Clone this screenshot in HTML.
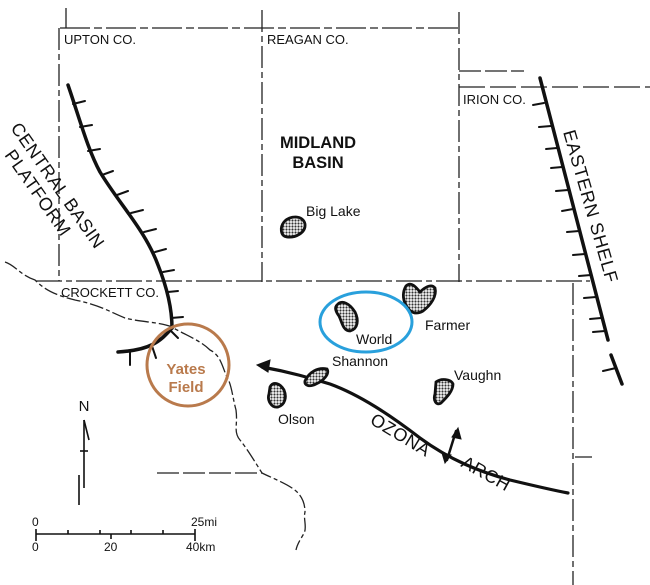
<!DOCTYPE html>
<html><head><meta charset="utf-8"><style>
html,body{margin:0;padding:0;background:#fff;}
svg{display:block;}
text{font-family:"Liberation Sans",sans-serif;fill:#111;}
</style></head><body>
<svg width="650" height="585" viewBox="0 0 650 585" xmlns="http://www.w3.org/2000/svg">
<g stroke="#222" stroke-width="1.3" fill="none">
  <line x1="66" y1="8" x2="66" y2="28"/>
  <path d="M60 28 H460" stroke-dasharray="30 4 8 4"/>
  <path d="M59 28 V281" stroke-dasharray="22 4 6 4"/>
  <path d="M262 10 V282" stroke-dasharray="22 4 6 4"/>
  <path d="M459 12 V282" stroke-dasharray="22 4 6 4"/>
  <path d="M459 71 H524" stroke-dasharray="22 4"/>
  <path d="M459 87 H650" stroke-dasharray="26 5"/>
  <path d="M36 281 H590" stroke-dasharray="26 4 6 4"/>
  <path d="M573 283 V585" stroke-dasharray="22 4 6 4"/>
  <line x1="575" y1="457" x2="592" y2="457"/>
  <path d="M157 473 H262" stroke-dasharray="22 4"/>
  <path d="M5 262 C15 265 20 275 35 280 C45 290 55 295 75 300 C100 305 110 312 125 318 C140 322 160 322 172 327 C185 335 200 340 210 350 C220 355 222 365 226 375 C232 385 232 395 236 410 C238 425 233 432 240 440 C248 450 255 462 262 473 C272 478 283 482 292 488 C303 495 305 505 305 512 C303 520 308 528 303 535 C300 540 297 545 296 550" stroke-dasharray="14 3 4 3"/>
</g>
<g stroke="#111" fill="none" stroke-linecap="round">
  <path d="M68 85 C80 120 88 150 100 172 C120 205 145 230 158 265 C168 290 172 310 172 328" stroke-width="3.5"/>
  <path d="M172 328 C160 342 150 350 118 352" stroke-width="3.5"/>
  <g stroke-width="2">
    <line x1="73" y1="104" x2="85" y2="101"/>
    <line x1="80" y1="127" x2="92" y2="125"/>
    <line x1="88" y1="151" x2="100" y2="149"/>
    <line x1="102" y1="175" x2="113" y2="171"/>
    <line x1="117" y1="195" x2="128" y2="191"/>
    <line x1="131" y1="213" x2="143" y2="210"/>
    <line x1="144" y1="232" x2="156" y2="229"/>
    <line x1="155" y1="252" x2="166" y2="249"/>
    <line x1="163" y1="272" x2="174" y2="270"/>
    <line x1="168" y1="292" x2="178" y2="291"/>
    <line x1="171" y1="318" x2="183" y2="317"/>
    <line x1="170" y1="330" x2="178" y2="338"/>
    <line x1="152" y1="346" x2="156" y2="358"/>
    <line x1="130" y1="351" x2="130" y2="365"/>
  </g>
</g>
<g stroke="#111" fill="none" stroke-linecap="round">
  <line x1="540" y1="78" x2="608" y2="340" stroke-width="3.5"/>
  <line x1="611" y1="355" x2="622" y2="384" stroke-width="3.5"/>
  <g stroke-width="2">
    <line x1="544" y1="103" x2="533" y2="105"/>
    <line x1="551" y1="126" x2="539" y2="127"/>
    <line x1="557" y1="148" x2="546" y2="149"/>
    <line x1="562" y1="167" x2="551" y2="168"/>
    <line x1="568" y1="190" x2="556" y2="191"/>
    <line x1="573" y1="209" x2="562" y2="211"/>
    <line x1="579" y1="231" x2="567" y2="232"/>
    <line x1="585" y1="254" x2="573" y2="255"/>
    <line x1="591" y1="275" x2="579" y2="276"/>
    <line x1="596" y1="297" x2="584" y2="298"/>
    <line x1="601" y1="318" x2="590" y2="319"/>
    <line x1="605" y1="331" x2="593" y2="332"/>
    <line x1="616" y1="368" x2="603" y2="371"/>
  </g>
</g>
<g stroke="#111" fill="none" stroke-linecap="round">
  <path d="M262 367 C290 372 310 378 330 384 C360 395 390 415 420 438 C450 460 480 472 510 480 C535 486 552 490 568 493" stroke-width="3.2"/>
  <path d="M257 365 L270 360 L268 372 Z" fill="#111" stroke-width="1"/>
  <line x1="456" y1="431" x2="447" y2="460" stroke-width="2.5"/>
  <path d="M458 428 L452 437 L461 439 Z M445 463 L442 453 L451 455 Z" fill="#111" stroke-width="1"/>
</g>
<defs>
<pattern id="dots" width="3" height="3" patternUnits="userSpaceOnUse">
<rect width="3" height="3" fill="#fff"/><circle cx="1.5" cy="1.5" r="1.1" fill="#333"/>
</pattern>
</defs>
<g fill="url(#dots)" stroke="#111" stroke-width="2.8">
  <path d="M284 222 C290 215 303 215 305 224 C306 233 295 238 287 237 C280 236 280 227 284 222 Z"/>
  <path d="M337 305 C342 299 350 304 355 312 C359 320 358 329 350 331 C343 331 342 322 339 316 C336 312 334 308 337 305 Z"/>
  <path d="M406 286 C411 281 416 287 420 292 C424 288 431 283 435 288 C437 296 431 305 423 311 C416 315 410 313 406 305 C402 298 403 291 406 286 Z"/>
  <path d="M305 381 C309 372 318 367 327 369 C330 374 323 381 316 384 C310 387 304 386 305 381 Z"/>
  <path d="M270 387 C273 381 280 383 284 390 C287 397 285 405 278 407 C271 408 267 400 269 394 Z"/>
  <path d="M436 382 C441 378 451 379 453 384 C453 391 447 397 441 403 C436 406 433 400 435 394 Z"/>
</g>
<ellipse cx="366" cy="322" rx="46" ry="30" fill="none" stroke="#29a0dc" stroke-width="3"/>
<circle cx="188" cy="365" r="41" fill="none" stroke="#b97a4c" stroke-width="3"/>
<g font-size="13">
  <text x="64" y="44">UPTON CO.</text>
  <text x="267" y="44">REAGAN CO.</text>
  <text x="463" y="104">IRION CO.</text>
  <text x="61" y="297">CROCKETT CO.</text>
</g>
<g font-size="14">
  <text x="306" y="216">Big Lake</text>
  <text x="356" y="344">World</text>
  <text x="425" y="330">Farmer</text>
  <text x="332" y="366">Shannon</text>
  <text x="454" y="380">Vaughn</text>
  <text x="278" y="424">Olson</text>
</g>
<g font-size="16.5" font-weight="bold" text-anchor="middle">
  <text x="318" y="148">MIDLAND</text>
  <text x="318" y="168">BASIN</text>
</g>
<g font-size="18">
  <text transform="translate(10,128) rotate(55)" letter-spacing="0.5">CENTRAL  BASIN</text>
  <text transform="translate(4,155) rotate(55)" letter-spacing="0.5">PLATFORM</text>
  <text transform="translate(563,132) rotate(74)" letter-spacing="0.8">EASTERN  SHELF</text>
  <text transform="translate(369,423) rotate(31)" letter-spacing="0.5">OZONA</text>
  <text transform="translate(460,466) rotate(29)" letter-spacing="0.5">ARCH</text>
</g>
<g font-size="15" font-weight="bold" text-anchor="middle">
  <text x="186" y="374" style="fill:#b97a4c">Yates</text>
  <text x="186" y="392" style="fill:#b97a4c">Field</text>
</g>
<text x="84" y="411" font-size="15" text-anchor="middle">N</text>
<g stroke="#111" stroke-width="1.6" fill="none">
  <path d="M84 420 V488"/>
  <path d="M84 420 L89 440"/>
  <line x1="80" y1="451" x2="88" y2="451"/>
  <line x1="79" y1="475" x2="79" y2="505"/>
</g>
<g stroke="#111" stroke-width="1.6">
  <line x1="36" y1="534" x2="195" y2="534"/>
  <line x1="36" y1="529" x2="36" y2="541"/>
  <line x1="195" y1="529" x2="195" y2="541"/>
  <line x1="68" y1="530" x2="68" y2="534"/>
  <line x1="100" y1="530" x2="100" y2="534"/>
  <line x1="131" y1="530" x2="131" y2="534"/>
  <line x1="163" y1="530" x2="163" y2="534"/>
  <line x1="111" y1="534" x2="111" y2="539"/>
</g>
<g font-size="12">
  <text x="32" y="526">0</text>
  <text x="191" y="526">25mi</text>
  <text x="32" y="551">0</text>
  <text x="104" y="551">20</text>
  <text x="186" y="551">40km</text>
</g>
</svg>
</body></html>
